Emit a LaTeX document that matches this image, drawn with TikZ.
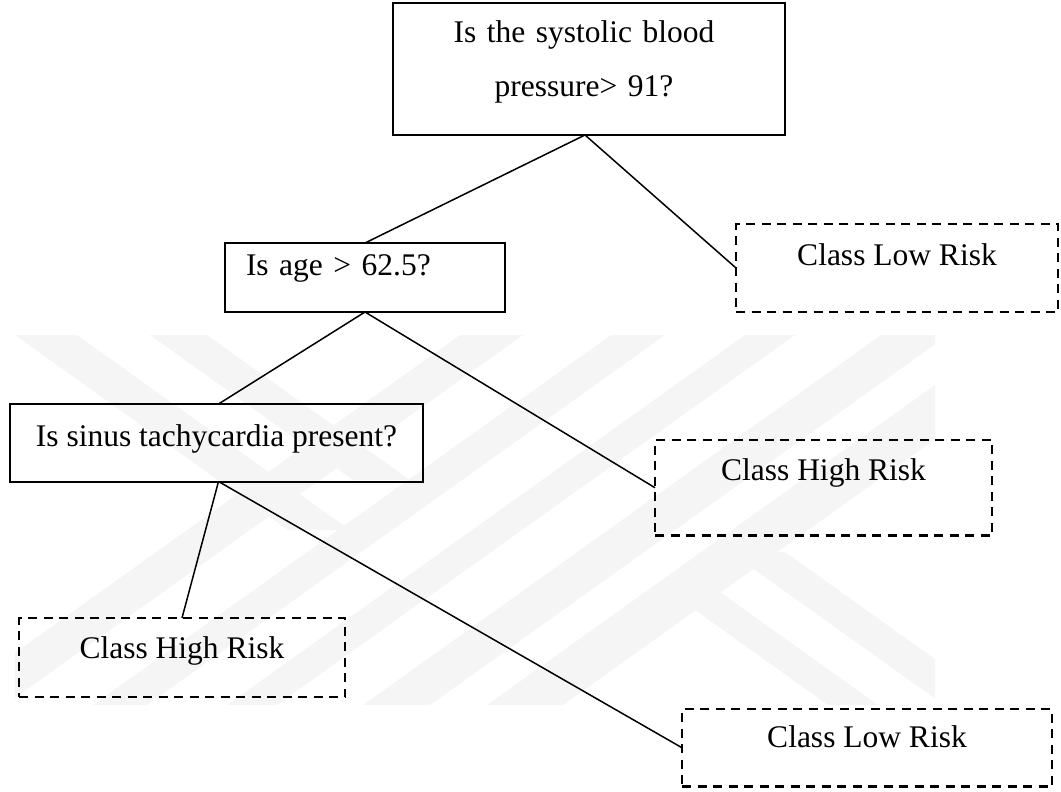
\documentclass[tikz,border=0pt]{standalone}
\usepackage{fontspec}
\setmainfont{Liberation Serif}
\begin{document}
\begin{tikzpicture}[x=1pt,y=-1pt,
  every node/.style={font=\fontsize{31.5}{53.5}\selectfont, inner sep=0pt, outer sep=0pt, anchor=north west},
  qbox/.style={draw, line width=2pt},
  leaf/.style={draw, line width=2.5pt, dash pattern=on 9pt off 6.5pt},
  link/.style={line width=1.5pt},
  wm/.style={fill=black!4, draw=none}]
\useasboundingbox (0,0) rectangle (1061,792);
% faint background watermark
\begin{scope}
\clip (15,335) rectangle (935,705);
\foreach \a/\b in {93/147,227/277,363/430,487/563,-58/5}{
  \fill[wm] (\a,705) -- (\b,705) -- ({\b+518},335) -- ({\a+518},335) -- cycle;}
\fill[wm] (15,335) -- (77,335) -- (350,530) -- (288,530) -- cycle;
\fill[wm] (150,335) -- (207,335) -- (410,480) -- (353,480) -- cycle;
\fill[wm] (660,585) -- (710,585) -- (878,705) -- (828,705) -- cycle;
\fill[wm] (730,552) -- (785,552) -- (999,705) -- (944,705) -- cycle;
\end{scope}
% decision nodes
\node[qbox, text width=392pt, align=center, text height=40pt, text depth=92pt] (sbp) at (393,3)
  {\hspace*{-10pt}Is the systolic blood\\\hspace*{-10pt}pressure> 91?};
\node[qbox, text width=238pt, inner xsep=21pt, align=left, text height=32pt, text depth=37pt] (age) at (225,243)
  {Is age > 62.5?};
\node[qbox, minimum width=413pt, text height=42pt, text depth=35.5pt] (sinus) at (10,404)
  {Is sinus tachycardia present?};
% leaves
\node[leaf, minimum width=322pt, text height=41pt, text depth=47pt] (low1) at (736,224) {Class Low Risk};
\node[leaf, minimum width=337pt, text height=40pt, text depth=55.5pt] (high1) at (655,440) {Class High Risk};
\node[leaf, minimum width=326pt, text height=40pt, text depth=39pt] (high2) at (19,618) {Class High Risk};
\node[leaf, minimum width=370pt, text height=38pt, text depth=39.5pt] (low2) at (682,709) {Class Low Risk};
% connectors
\draw[link] ([xshift=-4pt]sbp.south) -- (age.north);
\draw[link] ([xshift=-4pt]sbp.south) -- (low1.west);
\draw[link] (age.south) -- ([xshift=2pt]sinus.north);
\draw[link] (age.south) -- (high1.west);
\draw[link] ([xshift=2pt]sinus.south) -- (high2.north);
\draw[link] ([xshift=2pt]sinus.south) -- (low2.west);
\end{tikzpicture}
\end{document}
